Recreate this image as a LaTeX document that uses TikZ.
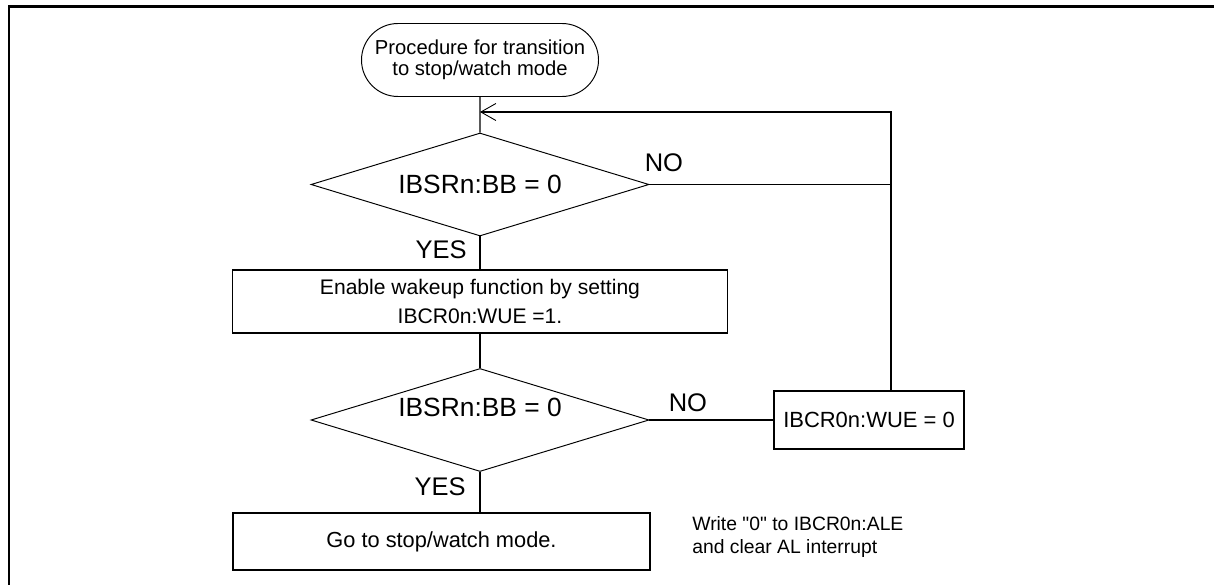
\documentclass[tikz,border=0pt]{standalone}
\usepackage{fontspec}
\setmainfont{Liberation Sans}
\usepackage{tikz}
\usetikzlibrary{positioning, arrows.meta, shapes.geometric, shapes.misc, calc}
\definecolor{ink}{HTML}{000000}
\tikzset{
  terminal/.style = {rounded rectangle, draw=ink, line width=0.55pt,
                     minimum width=4.74cm, minimum height=1.46cm, inner sep=0pt,
                     align=center, font=\fontsize{11.5}{12}\selectfont},
  test/.style     = {diamond, draw=ink, line width=0.55pt, aspect=3.28, inner sep=0pt,
                     minimum width=6.76cm, minimum height=2.06cm,
                     font=\fontsize{15}{18}\selectfont},
  block/.style    = {rectangle, draw=ink, line width=0.8pt, inner sep=0pt,
                     align=center},
  ar/.style       = {draw=ink, line width=0.75pt},
  tag/.style      = {inner sep=0pt, font=\fontsize{14.5}{17}\selectfont},
}

\begin{document}
\begin{tikzpicture}[
    back/.style={draw=ink, line width=1.7pt},
    barb/.style={-{Straight Barb[length=0.3cm, width=0.34cm, line width=0.5pt]}},
  ]
  \useasboundingbox (0,0) rectangle (24.28,-11.7);

  % frame
  \draw[back] (0.18,-11.8) -- (0.18,-0.13) -- (24.4,-0.13);

  % start and first test
  \node[terminal] (start) at (9.6,-1.2) {Procedure for transition\\ to stop/watch mode};
  \node[test] (testA) at (9.6,-3.69) {IBSRn:BB = 0};
  \node[block, minimum width=9.9cm, minimum height=1.26cm, font=\fontsize{12}{17}\selectfont]
       (wakeup) at (9.6,-6.03) {Enable wakeup function by setting\\ IBCR0n:WUE =1.};

  % second test
  \node[test] (testB) at (9.6,-8.4) {\raisebox{0.5cm}{IBSRn:BB = 0}};
  \node[block, minimum width=3.8cm, minimum height=1.16cm, font=\fontsize{12.5}{15}\selectfont]
       (clearwue) at (17.38,-8.4) {IBCR0n:WUE = 0};
  \node[block, minimum width=8.34cm, minimum height=1.14cm, font=\fontsize{12.4}{15}\selectfont]
       (gostop) at (8.83,-10.83) {Go to stop/watch mode.};
  \node[anchor=west, inner sep=0pt, align=left, font=\fontsize{11}{13}\selectfont]
       (note) at (13.84,-10.74) {Write \textquotedbl 0\textquotedbl{} to IBCR0n:ALE\\and clear AL interrupt};

  % connectors
  \coordinate (loop) at (17.82,-2.24);
  \draw[ar] (start) -- (testA);
  \draw[ar] (testA) -- (wakeup);
  \draw[ar] (wakeup) -- (testB);
  \draw[ar] (testB.south) -- (testB.south |- gostop.north);
  \draw[ar] (testB.east) -- (clearwue.west |- testB.east);
  \draw[ar] (testA.east) -- (testA.east -| loop);
  \draw[ar, barb] (clearwue.north -| loop) -- (loop) -- (loop -| start.south);

  % branch labels
  \node[tag, anchor=north east] (yesA) at ([xshift=-0.26cm, yshift=-0.08cm]testA.south) {YES};
  \node[tag, anchor=south west] (noA) at ([xshift=-0.1cm, yshift=0.24cm]testA.east) {NO};
  \node[tag, anchor=north east] (yesB) at ([xshift=-0.28cm, yshift=-0.1cm]testB.south) {YES};
  \node[tag, anchor=south west] (noB) at ([xshift=0.38cm, yshift=0.16cm]testB.east) {NO};

\end{tikzpicture}
\end{document}
